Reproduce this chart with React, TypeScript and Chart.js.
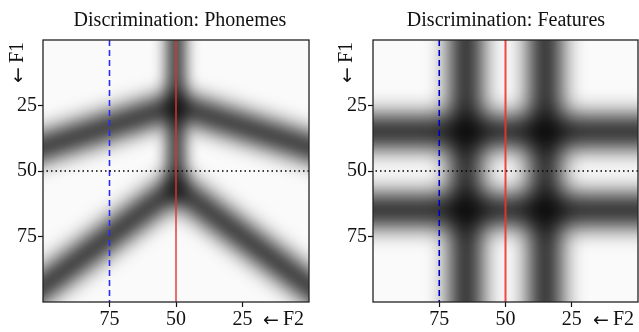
import React, { useEffect, useRef } from "react";
import { Chart, registerables } from "chart.js";

Chart.register(...registerables);

// ---- data (F2 on x, F1 on y, both 0..100, reversed) ----
const F2_TICKS = [75, 50, 25];
const F1_TICKS = [25, 50, 75];

// reference lines
const REF_F2_DASHED = 75;
const REF_F2_RED = 50;
const REF_F1_DOTTED = 50;

// Phonemes panel: dark band centre lines (F2, F1)
const PHON_VERTICAL = [
  { x: 50, y: -8 },
  { x: 50, y: 56 },
];
const PHON_UPPER = [
  { x: 110, y: 44 },
  { x: 50, y: 25 },
  { x: -10, y: 44 },
];
const PHON_LOWER = [
  { x: 110, y: 101.5 },
  { x: 50, y: 56 },
  { x: -10, y: 101.5 },
];

// Features panel: band positions
const FEAT_F2_BANDS = [65, 35];
const FEAT_F1_BANDS = [35, 65];

const SERIF = '"Liberation Serif", "Times New Roman", serif';
const ARROW_FONT = '19px "DejaVu Sans", sans-serif';

function drawArrowLabel(ctx: any, label: string, x: number, y: number) {
  // draws "← label" starting at x, vertically centred at y
  ctx.textAlign = "left";
  ctx.textBaseline = "middle";
  ctx.font = ARROW_FONT;
  const aw = ctx.measureText("\u2190").width;
  ctx.fillText("\u2190", x, y + 1);
  ctx.font = `20px ${SERIF}`;
  ctx.fillText(label, x + aw + 4, y);
}

const panelPlugin = {
  id: "panel",
  beforeDatasetsDraw(chart: any) {
    const { ctx, chartArea: a } = chart;
    ctx.save();
    ctx.fillStyle = "#fafafa";
    ctx.fillRect(a.left, a.top, a.right - a.left, a.bottom - a.top);
    ctx.restore();
  },
  beforeDatasetDraw(chart: any, args: any) {
    const ds = chart.data.datasets[args.index];
    if (ds.blur) {
      chart.ctx.save();
      chart.ctx.filter = `blur(${ds.blur}px)`;
    }
  },
  afterDatasetDraw(chart: any, args: any) {
    const ds = chart.data.datasets[args.index];
    if (ds.blur) chart.ctx.restore();
  },
  afterDraw(chart: any, _args: any, o: any) {
    const { ctx, chartArea: a } = chart;
    ctx.save();
    ctx.strokeStyle = "#222";
    ctx.lineWidth = 1.3;
    ctx.strokeRect(a.left, a.top, a.right - a.left, a.bottom - a.top);
    ctx.fillStyle = "#111";
    ctx.font = `20px ${SERIF}`;
    ctx.textAlign = "center";
    ctx.textBaseline = "middle";
    ctx.fillText(o.title, o.titleX, 21);
    drawArrowLabel(ctx, "F2", o.xLabelX, 320);
    ctx.translate(o.yLabelX, 63);
    ctx.rotate(-Math.PI / 2);
    drawArrowLabel(ctx, "F1", -20, 0);
    ctx.restore();
  },
};

function band(data: any[], width: number, alpha: number, blur: number) {
  return {
    data,
    showLine: true,
    pointRadius: 0,
    borderColor: `rgba(0,0,0,${alpha})`,
    borderWidth: width,
    borderJoinStyle: "round",
    borderCapStyle: "butt",
    blur,
    clip: 0,
    order: 2,
  };
}

function refLines(blue: string, red: string) {
  return [
    {
      data: [
        { x: 0, y: REF_F1_DOTTED },
        { x: 100, y: REF_F1_DOTTED },
      ],
      showLine: true,
      pointRadius: 0,
      borderColor: "#000",
      borderWidth: 1.5,
      borderDash: [1.5, 3],
      clip: 0,
      order: 0,
    },
    {
      data: [
        { x: REF_F2_DASHED, y: 0 },
        { x: REF_F2_DASHED, y: 100 },
      ],
      showLine: true,
      pointRadius: 0,
      borderColor: blue,
      borderWidth: 1.6,
      borderDash: [6, 4],
      clip: 0,
      order: 0,
    },
    {
      data: [
        { x: REF_F2_RED, y: 0 },
        { x: REF_F2_RED, y: 100 },
      ],
      showLine: true,
      pointRadius: 0,
      borderColor: red,
      borderWidth: 2,
      clip: 0,
      order: 0,
    },
  ];
}

function makeOptions(yWidth: number, padRight: number, plug: any) {
  const tickFont = { family: SERIF, size: 20 };
  return {
    animation: false,
    responsive: false,
    maintainAspectRatio: false,
    layout: { padding: { left: 0, right: padRight, top: 40, bottom: 0 } },
    plugins: {
      legend: { display: false },
      tooltip: { enabled: false },
      title: { display: false },
      panel: plug,
    },
    scales: {
      x: {
        type: "linear",
        min: 0,
        max: 100,
        reverse: true,
        afterBuildTicks: (s: any) => {
          s.ticks = F2_TICKS.map((v) => ({ value: v }));
        },
        afterFit: (s: any) => {
          s.height = 30;
        },
        ticks: { color: "#111", font: tickFont, padding: 1, autoSkip: false, maxRotation: 0, callback: (v: any) => String(v) },
        grid: { drawOnChartArea: false, drawTicks: true, tickLength: 5, tickColor: "#111", tickWidth: 1.2 },
        border: { display: false },
      },
      y: {
        type: "linear",
        min: 0,
        max: 100,
        reverse: true,
        afterBuildTicks: (s: any) => {
          s.ticks = F1_TICKS.map((v) => ({ value: v }));
        },
        afterFit: (s: any) => {
          s.width = yWidth;
        },
        ticks: { color: "#111", font: tickFont, padding: 1, autoSkip: false, callback: (v: any) => String(v) },
        grid: { drawOnChartArea: false, drawTicks: true, tickLength: 5, tickColor: "#111", tickWidth: 1.2 },
        border: { display: false },
      },
    },
  };
}

export default function App() {
  const leftRef = useRef<HTMLCanvasElement>(null);
  const rightRef = useRef<HTMLCanvasElement>(null);

  useEffect(() => {
    const left = new Chart(leftRef.current as HTMLCanvasElement, {
      type: "scatter",
      data: {
        datasets: [
          ...refLines("#2a2aff", "rgba(225,50,50,0.7)"),
          band(PHON_VERTICAL, 16, 0.9, 8),
          band(PHON_UPPER, 24, 0.95, 11),
          band(PHON_LOWER, 24, 0.95, 11),
        ] as any,
      },
      options: makeOptions(43, 11, { title: "Discrimination: Phonemes", titleX: 180, xLabelX: 263, yLabelX: 18 }) as any,
      plugins: [panelPlugin as any],
    });

    const vBands = FEAT_F2_BANDS.map((f2) =>
      band(
        [
          { x: f2, y: -12 },
          { x: f2, y: 112 },
        ],
        30,
        0.93,
        12
      )
    );
    const hBands = FEAT_F1_BANDS.map((f1) =>
      band(
        [
          { x: -12, y: f1 },
          { x: 112, y: f1 },
        ],
        30,
        0.93,
        12
      )
    );
    const right = new Chart(rightRef.current as HTMLCanvasElement, {
      type: "scatter",
      data: {
        datasets: [...refLines("#0000cc", "rgba(240,50,50,0.9)"), ...vBands, ...hBands] as any,
      },
      options: makeOptions(53, 1, { title: "Discrimination: Features", titleX: 186, xLabelX: 273, yLabelX: 27 }) as any,
      plugins: [panelPlugin as any],
    });

    return () => {
      left.destroy();
      right.destroy();
    };
  }, []);

  return (
    <div style={{ position: "fixed", left: 0, top: 0, width: 639, height: 332, display: "flex", background: "#fff" }}>
      <canvas ref={leftRef} width={320} height={332} style={{ width: 320, height: 332, display: "block" }} />
      <canvas ref={rightRef} width={319} height={332} style={{ width: 319, height: 332, display: "block" }} />
    </div>
  );
}
